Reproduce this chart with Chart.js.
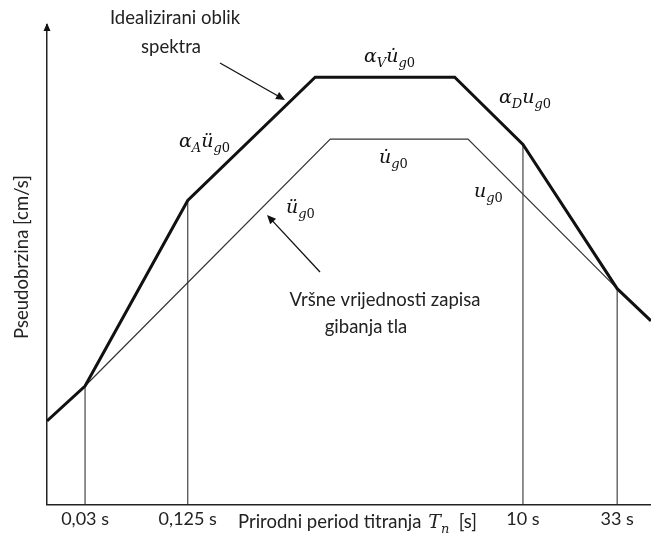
<!DOCTYPE html>
<html lang="hr">
<head>
<meta charset="UTF-8">
<title>Spektar pseudobrzine</title>
<style>
    html, body { margin: 0; padding: 0; background: #fff; }
    #wrap { width: 651px; height: 536px; }
</style>
</head>
<body>
<div id="wrap"><canvas id="grafikon" width="651" height="536"></canvas></div>
<script src="https://cdn.jsdelivr.net/npm/chart.js"></script>
<script>
    // os perioda: shematska (log) skala u relativnim jedinicama 0-100
    const oznakePerioda = ['0,03 s', '0,125 s', '10 s', '33 s'];
    const polozajPerioda = [6.3, 23.3, 78.8, 94.4];

    // idealizirani oblik spektra (debela linija)
    const idealX = [0, 6.3, 23.3, 44.4, 67.5, 78.8, 94.4, 100];
    const idealY = [17.4, 24.7, 63.4, 89.1, 89.1, 75.1, 45.0, 38.3];

    // vršne vrijednosti zapisa gibanja tla (tanka linija)
    const tloX = [6.3, 46.9, 69.7, 94.4];
    const tloY = [24.7, 76.2, 76.2, 45.0];

    function tocke(xs, ys) {
        return xs.map((x, i) => ({ x: x, y: ys[i] }));
    }

    // okomite linije od osi do spektra
    var okomice = polozajPerioda.map(p => ({
        data: [{ x: p, y: 0 }, { x: p, y: idealY[idealX.indexOf(p)] }],
        showLine: true,
        borderColor: '#444',
        borderWidth: 1.2,
        pointRadius: 0
    }));

    function crtajFormulu(ctx, x, y, dijelovi) {
        let px = x;
        ctx.textAlign = 'left';
        ctx.textBaseline = 'alphabetic';
        dijelovi.forEach(d => {
            const sub = d[2];
            ctx.font = (d[1] === 'i' ? 'italic ' : '') + (sub ? 13 : 19) + 'px "DejaVu Serif"';
            ctx.fillText(d[0], px, sub ? y + 5 : y);
            px += ctx.measureText(d[0]).width;
        });
        return px;
    }

    function strelica(ctx, x1, y1, x2, y2) {
        const kut = Math.atan2(y2 - y1, x2 - x1);
        ctx.beginPath();
        ctx.moveTo(x1, y1);
        ctx.lineTo(x2 - 6 * Math.cos(kut), y2 - 6 * Math.sin(kut));
        ctx.stroke();
        ctx.beginPath();
        ctx.moveTo(x2, y2);
        ctx.lineTo(x2 - 9 * Math.cos(kut) + 4 * Math.sin(kut), y2 - 9 * Math.sin(kut) - 4 * Math.cos(kut));
        ctx.lineTo(x2 - 9 * Math.cos(kut) - 4 * Math.sin(kut), y2 - 9 * Math.sin(kut) + 4 * Math.cos(kut));
        ctx.closePath();
        ctx.fill();
    }

    const biljeske = {
        id: 'biljeske',
        afterDraw(chart) {
            const ctx = chart.ctx;
            const a = chart.chartArea;
            ctx.save();
            ctx.fillStyle = '#111';
            ctx.strokeStyle = '#111';
            ctx.lineWidth = 1.3;

            // strelica na vrhu osi y
            ctx.beginPath();
            ctx.moveTo(a.left, a.top - 2);
            ctx.lineTo(a.left - 3.5, a.top + 6);
            ctx.lineTo(a.left + 3.5, a.top + 6);
            ctx.closePath();
            ctx.fill();

            // tekstovi
            ctx.fillStyle = '#222';
            ctx.font = '18.5px Lato';
            ctx.textAlign = 'center';
            ctx.textBaseline = 'middle';
            ctx.fillText('Idealizirani oblik', 175, 18);
            ctx.fillText('spektra', 171, 47);
            ctx.fillText('Vršne vrijednosti zapisa', 385, 300);
            ctx.fillText('gibanja tla', 366, 327);

            ctx.fillStyle = '#111';
            strelica(ctx, 220, 63, 285, 100);
            strelica(ctx, 320, 272, 267, 215);

            // formule
            crtajFormulu(ctx, 179, 147, [['α', 'i'], ['A', 'i', 1], ['ü', 'i'], ['g', 'i', 1], ['0', 'r', 1]]);
            crtajFormulu(ctx, 364, 62, [['α', 'i'], ['V', 'i', 1], ['u\u0307', 'i'], ['g', 'i', 1], ['0', 'r', 1]]);
            crtajFormulu(ctx, 499, 103, [['α', 'i'], ['D', 'i', 1], ['u', 'i'], ['g', 'i', 1], ['0', 'r', 1]]);
            crtajFormulu(ctx, 379, 163, [['u\u0307', 'i'], ['g', 'i', 1], ['0', 'r', 1]]);
            crtajFormulu(ctx, 474, 197, [['u', 'i'], ['g', 'i', 1], ['0', 'r', 1]]);
            crtajFormulu(ctx, 286, 213, [['ü', 'i'], ['g', 'i', 1], ['0', 'r', 1]]);

            // naslov osi y
            ctx.save();
            ctx.fillStyle = '#222';
            ctx.translate(22, 257);
            ctx.rotate(-Math.PI / 2);
            ctx.font = '18.5px Lato';
            ctx.textAlign = 'center';
            ctx.textBaseline = 'middle';
            ctx.fillText('Pseudobrzina [cm/s]', 0, 0);
            ctx.restore();

            // naslov osi x
            ctx.fillStyle = '#222';
            ctx.font = '18.5px Lato';
            ctx.textAlign = 'left';
            ctx.textBaseline = 'alphabetic';
            let px = 238;
            const by = 528;
            ctx.fillText('Prirodni period titranja ', px, by);
            px += ctx.measureText('Prirodni period titranja ').width + 2;
            px = crtajFormulu(ctx, px, by, [['T', 'i'], ['n', 'i', 1]]);
            ctx.font = '18.5px Lato';
            ctx.fillText('  [s]', px, by);

            ctx.restore();
        }
    };

    var grafikon = new Chart(document.getElementById('grafikon'), {
        type: 'scatter',
        data: {
            datasets: [
                {
                    label: 'Idealizirani oblik spektra',
                    data: tocke(idealX, idealY),
                    showLine: true,
                    borderColor: '#111',
                    borderWidth: 3,
                    pointRadius: 0
                },
                {
                    label: 'Vršne vrijednosti zapisa gibanja tla',
                    data: tocke(tloX, tloY),
                    showLine: true,
                    borderColor: '#333',
                    borderWidth: 1.2,
                    pointRadius: 0
                },
                ...okomice
            ]
        },
        options: {
            responsive: false,
            animation: false,
            layout: {
                padding: { left: 47, top: 25, right: 0, bottom: 2 }
            },
            plugins: {
                legend: { display: false },
                tooltip: { enabled: false }
            },
            scales: {
                x: {
                    type: 'linear',
                    min: 0,
                    max: 100,
                    grid: { display: false, drawTicks: false },
                    border: { color: '#222', width: 1.5 },
                    afterBuildTicks: (os) => {
                        os.ticks = polozajPerioda.map(v => ({ value: v }));
                    },
                    ticks: {
                        autoSkip: false,
                        maxRotation: 0,
                        padding: 4,
                        color: '#222',
                        font: { family: 'Lato', size: 18 },
                        callback: (v, i) => oznakePerioda[i]
                    }
                },
                y: {
                    min: 0,
                    max: 100,
                    grid: { display: false, drawTicks: false },
                    border: { color: '#222', width: 1.5 },
                    ticks: { display: false }
                }
            }
        },
        plugins: [biljeske]
    });
</script>
</body>
</html>
